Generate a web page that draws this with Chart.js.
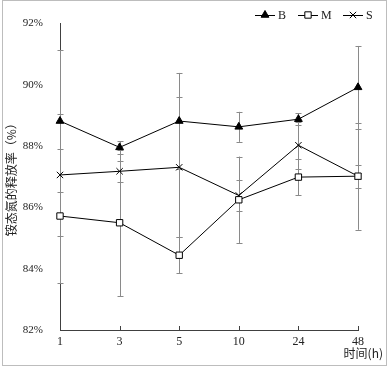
<!DOCTYPE html>
<html>
<head>
<meta charset="utf-8">
<script src="https://cdn.jsdelivr.net/npm/chart.js@4"></script>
<style>
  html, body { margin: 0; padding: 0; background: #fff; }
  #wrap { width: 390px; height: 368px; position: relative; }
</style>
</head>
<body>
<div id="wrap"><canvas id="chart" width="390" height="368"></canvas></div>
<script>
// sampling times (h)
const times = ['1', '3', '5', '10', '24', '48']

// release rate of ammonium N (%)
const seriesB = [88.82, 87.96, 88.82, 88.63, 88.88, 89.92]
const seriesM = [85.72, 85.50, 84.44, 86.25, 86.99, 87.02]
const seriesS = [87.06, 87.18, 87.31, 86.39, 88.03, 87.02]

// error bar half-lengths
const errB = [2.32, 0.20, 1.57, 0.49, 0.19, 1.35]
const errM = [2.20, 2.39, 0.58, 1.41, 0.60, 1.75]
const errS = [2.00, 0.35, 2.28, 0.50, 0.76, 0.37]

const yTicks = [82, 84, 86, 88, 90, 92]

const serif = "'Liberation Serif', 'DejaVu Serif', serif"
const cjk = "'Noto Sans CJK SC', sans-serif"

// gray frame around the whole picture
const framePlugin = {
  id: 'frame',
  beforeDraw(chart) {
    const ctx = chart.ctx
    ctx.save()
    ctx.strokeStyle = '#bdbdbd'
    ctx.lineWidth = 1
    ctx.strokeRect(2.5, 0.5, 384, 365)
    ctx.restore()
  }
}

// vertical error bars, drawn under the lines
const errorBarPlugin = {
  id: 'errorBars',
  beforeDatasetsDraw(chart) {
    const ctx = chart.ctx
    const x = chart.scales.x
    const y = chart.scales.y
    ctx.save()
    ctx.strokeStyle = '#8a8a8a'
    ctx.lineWidth = 1
    chart.data.datasets.forEach(ds => {
      ds.data.forEach((v, i) => {
        const e = ds.errors[i]
        const px = Math.round(x.getPixelForValue(i)) + 0.5
        const top = y.getPixelForValue(v + e)
        const bot = y.getPixelForValue(v - e)
        ctx.beginPath()
        ctx.moveTo(px, top)
        ctx.lineTo(px, bot)
        ctx.moveTo(px - 3, Math.round(top) + 0.5)
        ctx.lineTo(px + 3, Math.round(top) + 0.5)
        ctx.moveTo(px - 3, Math.round(bot) + 0.5)
        ctx.lineTo(px + 3, Math.round(bot) + 0.5)
        ctx.stroke()
      })
    })
    ctx.restore()
  }
}

// inward tick marks on the x axis, x title and legend
const extrasPlugin = {
  id: 'extras',
  afterDraw(chart) {
    const ctx = chart.ctx
    const x = chart.scales.x
    const area = chart.chartArea
    ctx.save()
    ctx.strokeStyle = '#404040'
    ctx.lineWidth = 1
    times.forEach((t, i) => {
      const px = Math.round(x.getPixelForValue(i)) + 0.5
      ctx.beginPath()
      ctx.moveTo(px, area.bottom)
      ctx.lineTo(px, area.bottom - 4)
      ctx.stroke()
    })

    ctx.fillStyle = '#222'
    ctx.font = '12px ' + cjk
    ctx.textAlign = 'right'
    ctx.textBaseline = 'middle'
    ctx.fillText('时间(h)', x.right + 25, 353)

    // legend
    const items = [
      { label: 'B', x: 255, ds: chart.data.datasets[0] },
      { label: 'M', x: 298, ds: chart.data.datasets[1] },
      { label: 'S', x: 343, ds: chart.data.datasets[2] }
    ]
    const ly = 15
    items.forEach(it => {
      ctx.strokeStyle = '#000'
      ctx.lineWidth = 1
      ctx.beginPath()
      ctx.moveTo(it.x, ly + 0.5)
      ctx.lineTo(it.x + 20, ly + 0.5)
      ctx.stroke()
      ctx.fillStyle = it.ds.pointBackgroundColor
      ctx.strokeStyle = '#000'
      Chart.helpers.drawPoint(ctx, {
        pointStyle: it.ds.pointStyle,
        radius: it.ds.pointRadius,
        borderWidth: 1,
        rotation: 0
      }, it.x + 10, ly)
      ctx.fillStyle = '#222'
      ctx.font = '12px ' + serif
      ctx.textAlign = 'left'
      ctx.fillText(it.label, it.x + 23, ly + 1)
    })
    ctx.restore()
  }
}

const baseSet = {
  borderColor: '#000',
  borderWidth: 1,
  tension: 0,
  clip: false,
  pointBorderColor: '#000',
  pointBorderWidth: 1
}

new Chart(document.getElementById('chart'), {
  type: 'line',
  data: {
    labels: times,
    datasets: [
      { ...baseSet, label: 'B', data: seriesB, errors: errB,
        pointStyle: 'triangle', pointRadius: 4.5, pointBackgroundColor: '#000' },
      { ...baseSet, label: 'M', data: seriesM, errors: errM,
        pointStyle: 'rect', pointRadius: 4.5, pointBackgroundColor: '#fff' },
      { ...baseSet, label: 'S', data: seriesS, errors: errS,
        pointStyle: 'crossRot', pointRadius: 4.5, pointBackgroundColor: '#000' }
    ]
  },
  options: {
    responsive: false,
    animation: false,
    devicePixelRatio: 1,
    layout: { padding: { left: 0, right: 32, top: 16, bottom: 0 } },
    plugins: {
      legend: { display: false },
      tooltip: { enabled: false }
    },
    scales: {
      x: {
        type: 'category',
        offset: false,
        grid: { display: false, drawTicks: false },
        border: { display: true, color: '#404040', width: 1 },
        ticks: { color: '#222', font: { family: serif, size: 12 }, padding: 5, maxRotation: 0, autoSkip: false },
        afterFit(scale) { scale.height = 38 }
      },
      y: {
        min: 82,
        max: 92,
        afterBuildTicks(scale) { scale.ticks = yTicks.map(v => ({ value: v })) },
        grid: { display: false, drawTicks: false },
        border: { display: true, color: '#404040', width: 1 },
        ticks: {
          color: '#222',
          font: { family: serif, size: 11 },
          padding: 17,
          callback: v => v + '%'
        },
        title: {
          display: true,
          text: '铵态氮的释放率（%）',
          color: '#222',
          font: { family: cjk, size: 12 },
          padding: { top: 4, bottom: 0 }
        },
        afterFit(scale) { scale.width = 60 }
      }
    }
  },
  plugins: [framePlugin, errorBarPlugin, extrasPlugin]
})
</script>
</body>
</html>
